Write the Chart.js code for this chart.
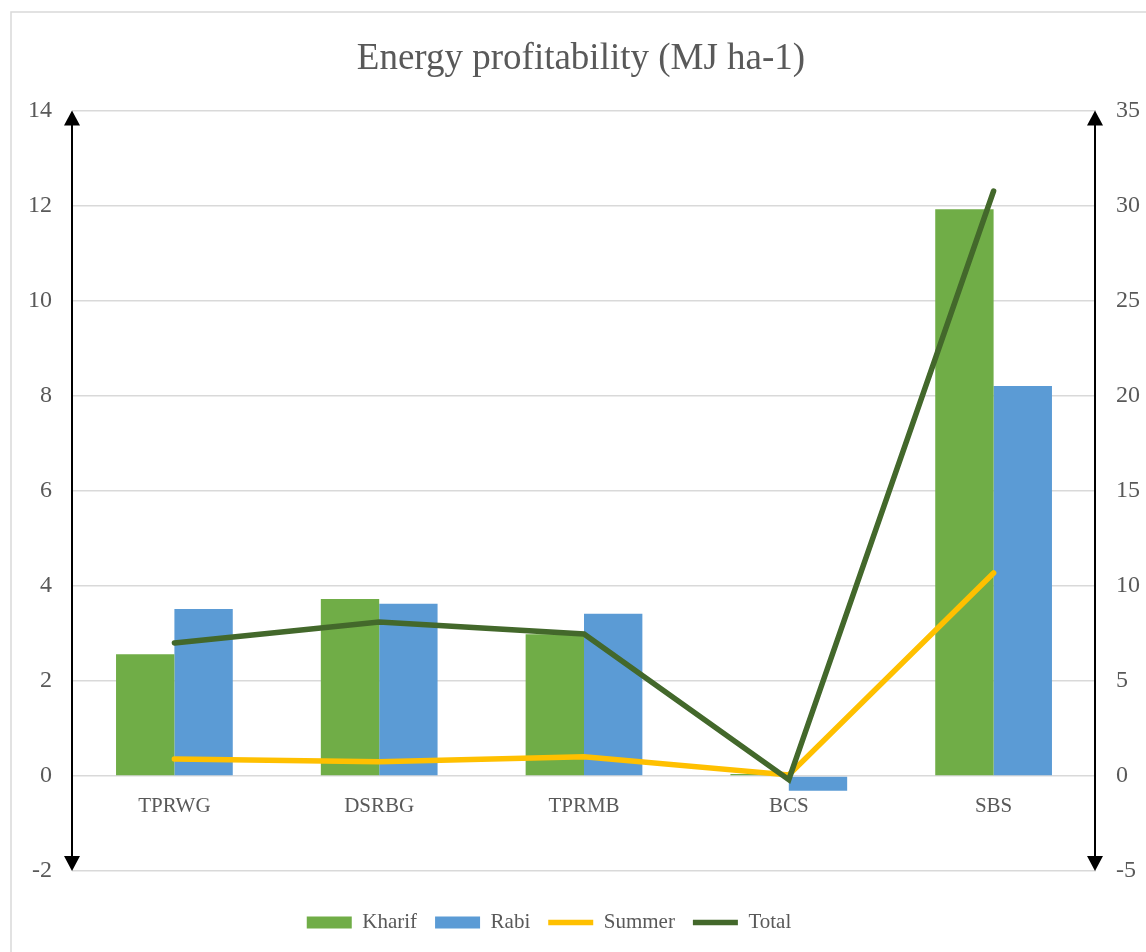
<!DOCTYPE html>
<html>
<head>
<meta charset="utf-8">
<script src="https://cdn.jsdelivr.net/npm/chart.js@4"></script>
<style>
  body { margin: 0; background: #fff; }
  #wrap { width: 1146px; height: 952px; }
</style>
</head>
<body>
<div id="wrap"><canvas id="myChart" width="1146" height="952"></canvas></div>
<script>
const systems = ['TPRWG', 'DSRBG', 'TPRMB', 'BCS', 'SBS']
const kharif = [2.56, 3.72, 2.98, 0.04, 11.92]
const rabi = [3.51, 3.62, 3.41, -0.31, 8.2]
const summer = [0.89, 0.75, 1.01, 0.05, 10.67]
const total = [6.99, 8.09, 7.46, -0.2, 30.76]
const leftTicks = [-2, 14, 2]
const rightTicks = [-5, 35, 5]

const grey = '#595959'
const serif = "'Liberation Serif', 'DejaVu Serif', serif"

// axis lines with arrow heads on both ends, plus the frame round the chart
const arrowAxes = {
    id: 'arrowAxes',
    afterLayout(chart) {
        // nudge title and legend to where they sit in the picture
        chart.titleBlock.left += 8
        chart.titleBlock.right += 8
        chart.legend.left -= 24
        chart.legend.right -= 24
        chart.legend.top += 23
        chart.legend.bottom += 23
    },
    beforeDraw(chart) {
        const c = chart.ctx
        c.save()
        c.strokeStyle = '#d9d9d9'
        c.lineWidth = 1.5
        c.strokeRect(11, 12, chart.width, chart.height)
        c.restore()
    },
    afterDraw(chart) {
        const c = chart.ctx
        const top = chart.chartArea.top
        const bottom = chart.chartArea.bottom
        c.save()
        c.strokeStyle = '#000'
        c.fillStyle = '#000'
        c.lineWidth = 2
        ;[chart.chartArea.left, chart.chartArea.right - 1].forEach(x => {
            c.beginPath()
            c.moveTo(x, top + 10)
            c.lineTo(x, bottom - 10)
            c.stroke()
            c.beginPath()
            c.moveTo(x, top)
            c.lineTo(x - 8, top + 15)
            c.lineTo(x + 8, top + 15)
            c.closePath()
            c.fill()
            c.beginPath()
            c.moveTo(x, bottom)
            c.lineTo(x - 8, bottom - 15)
            c.lineTo(x + 8, bottom - 15)
            c.closePath()
            c.fill()
        })
        c.restore()
    }
}

var ctx = document.getElementById('myChart')

var myChart = new Chart(ctx, {
    type: 'bar',
    data: {
        labels: systems,
        datasets: [{
            label: 'Kharif',
            data: kharif,
            backgroundColor: '#70AD47',
            yAxisID: 'y',
            order: 2,
            pointStyle: 'rect'
        }, {
            label: 'Rabi',
            data: rabi,
            backgroundColor: '#5B9BD5',
            yAxisID: 'y',
            order: 2,
            pointStyle: 'rect'
        }, {
            type: 'line',
            label: 'Summer',
            data: summer,
            borderColor: '#FFC000',
            backgroundColor: '#FFC000',
            borderWidth: 5.5,
            borderCapStyle: 'round',
            pointRadius: 0,
            yAxisID: 'y1',
            order: 1,
            pointStyle: 'line'
        }, {
            type: 'line',
            label: 'Total',
            data: total,
            borderColor: '#43682B',
            backgroundColor: '#43682B',
            borderWidth: 5.5,
            borderCapStyle: 'round',
            pointRadius: 0,
            yAxisID: 'y1',
            order: 0,
            pointStyle: 'line'
        }]
    },
    options: {
        responsive: false,
        animation: false,
        datasets: {
            bar: { categoryPercentage: 0.57, barPercentage: 1.0 }
        },
        layout: { padding: { left: 0, right: 0, top: 20, bottom: 32 } },
        plugins: {
            title: {
                display: true,
                text: 'Energy profitability (MJ ha-1)',
                color: grey,
                font: { family: serif, size: 37, weight: 'normal' },
                padding: { top: 17, bottom: 29 }
            },
            legend: {
                position: 'bottom',
                labels: {
                    usePointStyle: true,
                    pointStyleWidth: 45,
                    boxHeight: 12,
                    color: grey,
                    padding: 18,
                    font: { family: serif, size: 21 },
                    sort: (a, b) => a.datasetIndex - b.datasetIndex
                }
            },
            tooltip: { enabled: false }
        },
        scales: {
            x: {
                position: { y: 0 },
                grid: { display: false, drawTicks: false },
                border: { display: false },
                ticks: { color: grey, padding: 18, font: { family: serif, size: 21 } }
            },
            y: {
                position: 'left',
                min: leftTicks[0],
                max: leftTicks[1],
                afterFit: s => { s.width = 72 },
                grid: { color: '#d9d9d9', lineWidth: 1.5, drawTicks: false },
                border: { display: false },
                ticks: { stepSize: leftTicks[2], color: grey, padding: 20, font: { family: serif, size: 24 } }
            },
            y1: {
                position: 'right',
                min: rightTicks[0],
                max: rightTicks[1],
                afterFit: s => { s.width = 50 },
                grid: { display: false, drawTicks: false },
                border: { display: false },
                ticks: { stepSize: rightTicks[2], color: grey, padding: 20, font: { family: serif, size: 24 } }
            }
        }
    },
    plugins: [arrowAxes]
})
</script>
</body>
</html>
